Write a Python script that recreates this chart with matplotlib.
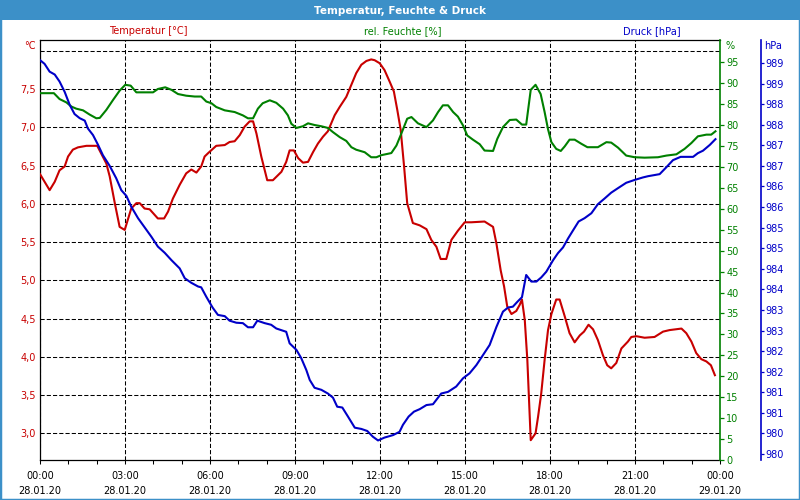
import numpy as np
import pandas as pd
import matplotlib.pyplot as plt
import matplotlib.dates as mdates
from matplotlib.patches import Rectangle

# ============================================================
# Data (hours after 28.01.20 00:00)
# ============================================================

temp_h = [0.0, 0.34, 0.52, 0.69, 0.87, 0.99, 1.16, 1.34, 1.64, 2.02, 2.16, 2.34, 2.46,
          2.64, 2.81, 2.99, 3.08, 3.22, 3.40, 3.52, 3.69, 3.87, 3.99, 4.16, 4.38, 4.52,
          4.69, 4.93, 5.16, 5.34, 5.52, 5.69, 5.81, 5.95, 6.22, 6.52, 6.69, 6.87, 7.05,
          7.22, 7.40, 7.52, 7.64, 7.81, 8.02, 8.22, 8.52, 8.69, 8.81, 8.96, 9.11, 9.28,
          9.46, 9.64, 9.81, 9.99, 10.16, 10.40, 10.58, 10.81, 10.99, 11.16, 11.34, 11.52,
          11.69, 11.81, 11.99, 12.16, 12.34, 12.49, 12.61, 12.73, 12.85, 12.96, 13.16,
          13.40, 13.64, 13.81, 13.99, 14.14, 14.34, 14.52, 14.75, 14.99, 15.22, 15.69,
          15.99, 16.11, 16.26, 16.38, 16.49, 16.64, 16.81, 16.93, 17.01, 17.11, 17.20,
          17.32, 17.49, 17.58, 17.69, 17.81, 17.93, 18.05, 18.22, 18.34, 18.52, 18.69,
          18.87, 19.05, 19.20, 19.36, 19.52, 19.69, 19.87, 20.02, 20.16, 20.34, 20.52,
          20.75, 20.87, 21.05, 21.34, 21.69, 21.99, 22.22, 22.64, 22.81, 22.99, 23.16,
          23.34, 23.52, 23.68, 23.82]
temp_c = [6.39, 6.18, 6.29, 6.44, 6.49, 6.62, 6.71, 6.74, 6.76, 6.76, 6.66, 6.53, 6.36,
          6.01, 5.70, 5.66, 5.77, 5.94, 6.01, 6.01, 5.94, 5.93, 5.88, 5.81, 5.81, 5.90,
          6.07, 6.25, 6.40, 6.45, 6.41, 6.49, 6.62, 6.67, 6.76, 6.77, 6.81, 6.82, 6.90,
          7.01, 7.08, 7.08, 6.92, 6.62, 6.31, 6.31, 6.42, 6.55, 6.70, 6.70, 6.60, 6.54,
          6.55, 6.68, 6.79, 6.88, 6.95, 7.16, 7.27, 7.40, 7.56, 7.71, 7.82, 7.87,
          7.89, 7.88, 7.84, 7.75, 7.60, 7.47, 7.23, 6.97, 6.49, 6.01, 5.75,
          5.72, 5.67, 5.53, 5.44, 5.28, 5.28, 5.53, 5.65, 5.76, 5.76, 5.77,
          5.70, 5.48, 5.13, 4.92, 4.66, 4.56, 4.60, 4.68, 4.75, 4.48, 3.96,
          2.91, 3.00, 3.22, 3.52, 3.96, 4.35, 4.56, 4.75, 4.75, 4.53, 4.31,
          4.19, 4.28, 4.33, 4.42, 4.36, 4.22, 4.02, 3.89, 3.85, 3.92, 4.11,
          4.20, 4.26, 4.27, 4.25, 4.26, 4.33, 4.35, 4.37, 4.31, 4.20, 4.05,
          3.97, 3.94, 3.89, 3.76]

hum_h = [0.0, 0.49, 0.69, 0.93, 1.11, 1.28, 1.52, 1.75, 1.99, 2.11, 2.34, 2.58, 2.81,
         3.01, 3.20, 3.40, 3.69, 3.99, 4.16, 4.42, 4.64, 4.87, 5.16, 5.46, 5.69, 5.87,
         6.05, 6.22, 6.52, 6.87, 7.16, 7.34, 7.52, 7.69, 7.86, 8.11, 8.34, 8.58, 8.75,
         8.87, 9.05, 9.28, 9.46, 9.69, 9.93, 10.16, 10.34, 10.58, 10.81, 10.99, 11.16,
         11.46, 11.69, 11.87, 12.05, 12.40, 12.58, 12.75, 12.96, 13.11, 13.34, 13.64,
         13.87, 14.05, 14.22, 14.40, 14.58, 14.75, 14.93, 15.08, 15.28, 15.52, 15.69,
         15.99, 16.14, 16.34, 16.58, 16.81, 17.01, 17.16, 17.32, 17.49, 17.67, 17.81,
         17.93, 18.05, 18.22, 18.38, 18.52, 18.69, 18.87, 19.11, 19.32, 19.69, 19.99,
         20.16, 20.40, 20.69, 20.99, 21.34, 21.81, 22.11, 22.46, 22.75, 22.99, 23.22,
         23.52, 23.69, 23.84]
hum_pct = [87.6, 87.6, 86.2, 85.4, 84.4, 83.9, 83.5, 82.5, 81.6, 81.7, 83.6, 86.0, 88.2,
           89.6, 89.4, 87.8, 87.8, 87.8, 88.6, 89.0, 88.4, 87.4, 87.0, 86.8, 86.8, 85.6,
           85.2, 84.3, 83.5, 83.1, 82.3, 81.6, 81.6, 83.9, 85.2, 85.9, 85.3, 83.9, 82.3,
           80.3, 79.3, 79.7, 80.4, 80.0, 79.7, 79.3, 78.3, 77.1, 76.2, 74.7, 74.1,
           73.5, 72.3, 72.3, 72.8, 73.3, 75.1, 77.9, 81.5, 81.9, 80.4, 79.5,
           81.1, 83.1, 84.7, 84.7, 83.1, 82.0, 79.9, 77.5, 76.5, 75.4, 73.9,
           73.8, 76.7, 79.5, 81.2, 81.3, 80.1, 80.1, 88.4, 89.6, 87.4, 83.1,
           79.0, 75.9, 74.3, 73.8, 74.9, 76.5, 76.5, 75.5, 74.7, 74.7, 75.9,
           75.8, 74.6, 72.7, 72.3, 72.2, 72.3, 72.7, 73.0, 74.3, 75.7, 77.3,
           77.7, 77.7, 78.5]

pres_h = [0.0, 0.16, 0.34, 0.52, 0.69, 0.87, 1.05, 1.22, 1.40, 1.58, 1.69, 1.87, 2.05,
          2.22, 2.46, 2.69, 2.87, 3.05, 3.22, 3.46, 3.69, 3.93, 4.16, 4.40, 4.64, 4.93,
          5.11, 5.34, 5.58, 5.69, 5.87, 6.09, 6.28, 6.52, 6.69, 6.93, 7.16, 7.34, 7.52,
          7.67, 7.93, 8.16, 8.34, 8.69, 8.81, 9.05, 9.22, 9.40, 9.52, 9.69, 9.93, 10.16,
          10.34, 10.49, 10.67, 10.87, 11.11, 11.34, 11.55, 11.75, 11.93, 12.16, 12.46,
          12.69, 12.81, 13.01, 13.20, 13.40, 13.64, 13.87, 14.16, 14.40, 14.69, 14.93,
          15.16, 15.40, 15.64, 15.87, 16.11, 16.34, 16.52, 16.69, 16.85, 17.01, 17.16,
          17.34, 17.52, 17.69, 17.87, 18.11, 18.28, 18.46, 18.64, 18.81, 19.01, 19.22,
          19.46, 19.69, 19.93, 20.16, 20.40, 20.69, 20.99, 21.28, 21.46, 21.87, 22.11,
          22.34, 22.61, 23.05, 23.22, 23.40, 23.64, 23.84]
pres_hpa = [989.07, 988.98, 988.79, 988.72, 988.55, 988.30, 987.98, 987.76, 987.66, 987.60,
            987.41, 987.25, 987.01, 986.76, 986.50, 986.20, 985.91, 985.77, 985.51, 985.23,
            985.01, 984.78, 984.54, 984.39, 984.21, 984.01, 983.77, 983.66, 983.57, 983.55,
            983.32, 983.06, 982.88, 982.85, 982.74, 982.69, 982.68, 982.58, 982.58, 982.74,
            982.68, 982.64, 982.55, 982.47, 982.19, 982.03, 981.83, 981.54, 981.30, 981.11,
            981.06, 980.97, 980.87, 980.65, 980.63, 980.41, 980.14, 980.11, 980.06, 979.92,
            979.83, 979.90, 979.96, 980.04, 980.21, 980.41, 980.53, 980.59, 980.69, 980.71,
            980.97, 981.01, 981.14, 981.34, 981.46, 981.66, 981.91, 982.15, 982.59, 982.96,
            983.06, 983.08, 983.20, 983.31, 983.85, 983.69, 983.69, 983.79, 983.93, 984.21,
            984.38, 984.52, 984.74, 984.93, 985.15, 985.23, 985.35, 985.57, 985.71, 985.85,
            985.96, 986.09, 986.16, 986.22, 986.25, 986.30, 986.47, 986.64, 986.72, 986.72,
            986.81, 986.87, 987.01, 987.15]

temp_ticks = [3.0, 3.5, 4.0, 4.5, 5.0, 5.5, 6.0, 6.5, 7.0, 7.5, 8.0]
hum_ticks = list(range(0, 100, 5))
pres_ticks = [979.5, 980.0, 980.5, 981.0, 981.5, 982.0, 982.5, 983.0, 983.5, 984.0,
              984.5, 985.0, 985.5, 986.0, 986.5, 987.0, 987.5, 988.0, 988.5, 989.0]

# ============================================================
# Styling
# ============================================================

RED = "#c80000"
GREEN = "#008000"
BLUE = "#0000c8"
FRAME = "#3c90c8"
FS = 7

plt.rcParams["font.family"] = ["DejaVu Sans"]

start = pd.Timestamp("2020-01-28 00:00")


def to_time(hours):
    return start + pd.to_timedelta(np.asarray(hours), unit="h")


def px(x, y):
    """pixel position -> figure fraction"""
    return x / 800, 1 - y / 500


fig = plt.figure(figsize=(8, 5), dpi=100)
fig.patch.set_facecolor("white")

# title bar and frame
fig.patches.append(Rectangle((0, 1 - 20 / 500), 1, 20 / 500, transform=fig.transFigure,
                             facecolor=FRAME, edgecolor="none", zorder=0))
fig.patches.append(Rectangle((0, 0), 1, 1, transform=fig.transFigure, fill=False,
                             edgecolor=FRAME, lw=2.5, zorder=5))
fig.text(*px(400, 10.5), "Temperatur, Feuchte & Druck", color="white", fontsize=7.5,
         fontweight="bold", ha="center", va="center")

ax = fig.add_axes([40 / 800, 40 / 500, 680 / 800, 420 / 500])
ax_h = ax.twinx()
ax_p = ax.twinx()
# 41 px to the right of the humidity axis (outward is given in points)
ax_p.spines["right"].set_position(("outward", 41 * 0.72))

# ---- temperature (left) axis
ax.plot(to_time(temp_h), temp_c, color=RED, lw=1.5, zorder=3)
ax.set_ylim(2.651, 8.144)
ax.set_yticks(temp_ticks)
ax.set_yticklabels([f"{v:.1f}".replace(".", ",") if v < 8 else "" for v in temp_ticks])
ax.tick_params(axis="y", length=0, pad=3, labelcolor=RED, labelsize=FS)
ax.set_xlim(start, start + pd.Timedelta(hours=24))
ax.xaxis.set_major_locator(mdates.HourLocator(byhour=range(0, 24, 3)))
ax.xaxis.set_minor_locator(mdates.HourLocator())
ax.xaxis.set_major_formatter(mdates.DateFormatter("%H:%M\n%d.%m.%y"))
ax.tick_params(axis="x", which="both", direction="out", length=3, width=0.75,
               pad=5, labelsize=FS)
plt.setp(ax.get_xticklabels(), linespacing=1.55)
ax.grid(True, which="major", color="black", linestyle=(0, (4, 2)), lw=0.75)
for s in ["left", "top", "bottom"]:
    ax.spines[s].set_linewidth(0.9)
ax.spines["right"].set_visible(False)

# ---- humidity (right) axis
ax_h.plot(to_time(hum_h), hum_pct, color=GREEN, lw=1.5)
ax_h.set_ylim(0, 100.3)
ax_h.set_yticks(hum_ticks)
ax_h.tick_params(axis="y", direction="out", length=3, width=0.9, pad=1.5,
                 color=GREEN, labelcolor=GREEN, labelsize=FS)
for s in ["left", "top", "bottom"]:
    ax_h.spines[s].set_visible(False)
ax_h.spines["right"].set_color(GREEN)
ax_h.spines["right"].set_linewidth(1.2)

# ---- pressure (outer right) axis
ax_p.plot(to_time(pres_h), pres_hpa, color=BLUE, lw=1.5)
ax_p.set_ylim(979.355, 989.559)
ax_p.set_yticks(pres_ticks)
ax_p.set_yticklabels([str(int(np.floor(v + 0.5))) for v in pres_ticks])
ax_p.tick_params(axis="y", direction="out", length=2, width=0.9, pad=1.5,
                 color=BLUE, labelcolor=BLUE, labelsize=FS)
for s in ["left", "top", "bottom"]:
    ax_p.spines[s].set_visible(False)
ax_p.spines["right"].set_color(BLUE)
ax_p.spines["right"].set_linewidth(1.2)

# ---- series and unit labels
fig.text(*px(148, 31), "Temperatur [°C]", color=RED, fontsize=FS, ha="center", va="center")
fig.text(*px(403, 31), "rel. Feuchte [%]", color=GREEN, fontsize=FS, ha="center", va="center")
fig.text(*px(652, 31), "Druck [hPa]", color=BLUE, fontsize=FS, ha="center", va="center")
fig.text(*px(36, 46), "°C", color=RED, fontsize=FS, ha="right", va="center")
fig.text(*px(725, 46), "%", color=GREEN, fontsize=FS, ha="left", va="center")
fig.text(*px(764, 46), "hPa", color=BLUE, fontsize=FS, ha="left", va="center")

plt.savefig("out.png", dpi=100)
